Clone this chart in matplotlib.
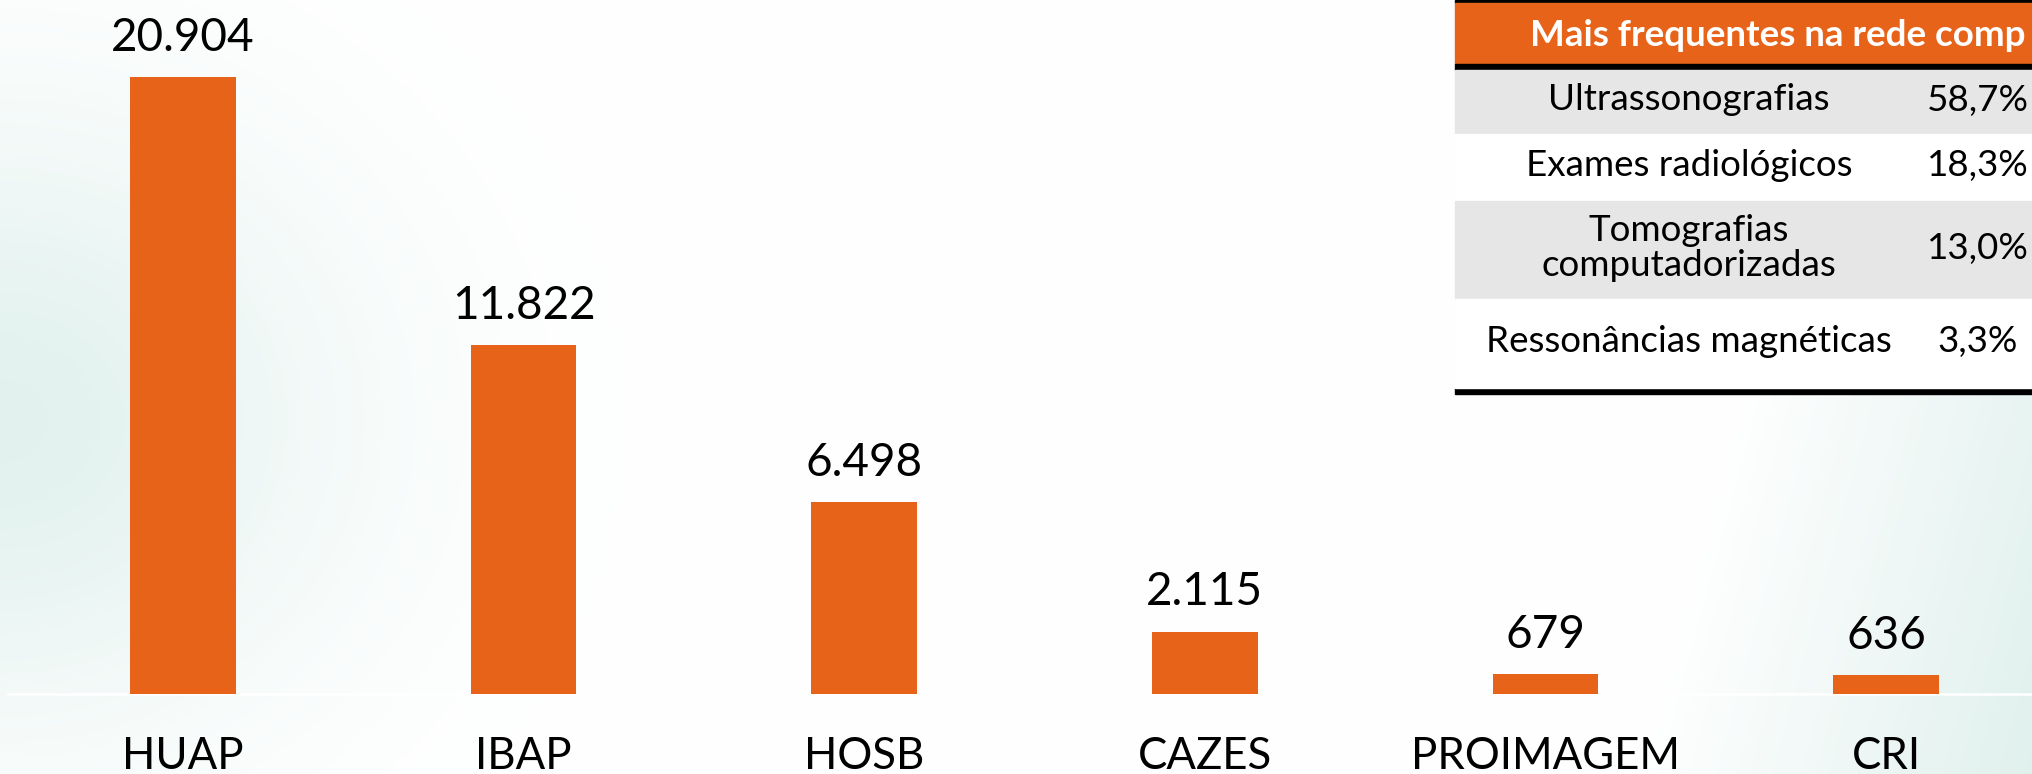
import matplotlib
matplotlib.use("Agg")
import matplotlib.pyplot as plt
import numpy as np
from matplotlib.patches import Rectangle

# -----------------------------------------------------------------------
# Data
# -----------------------------------------------------------------------
units  = ["HUAP", "IBAP", "HOSB", "CAZES", "PROIMAGEM", "CRI"]
exams  = [20904, 11822, 6498, 2115, 679, 636]
labels = ["20.904", "11.822", "6.498", "2.115", "679", "636"]

table_title = "Mais frequentes na rede comp"   # cut at the slide edge
table_rows  = ["Ultrassonografias", "Exames radiológicos",
               "Tomografias\ncomputadorizadas", "Ressonâncias magnéticas"]
table_pcts  = ["58,7%", "18,3%", "13,0%", "3,3%"]

# -----------------------------------------------------------------------
# Style
# -----------------------------------------------------------------------
ORANGE = "#E8631A"
GRAY   = "#E6E6E6"
W, H   = 2033, 774
plt.rcParams["font.family"] = ["Lato", "DejaVu Sans"]

fig = plt.figure(figsize=(W / 100, H / 100), dpi=100)

# background: soft teal glow on the left and in the lower right corner
bg = fig.add_axes([0, 0, 1, 1])
yy, xx = np.mgrid[0:H, 0:W]
glow   = np.exp(-(xx / 340.0) ** 2 - ((yy - 420) / 300.0) ** 2)
corner = np.clip((xx + 0.27 * yy - 1840) / 420.0, 0, 1)
w      = np.clip(0.8 * glow + 0.9 * corner, 0, 1)[..., None]
teal   = np.array([0.86, 0.935, 0.92])
bg.imshow(1 - w * (1 - teal), extent=(0, W, H, 0), aspect="auto")
bg.set_xlim(0, W)
bg.set_ylim(H, 0)
bg.axis("off")

# -----------------------------------------------------------------------
# Bars
# -----------------------------------------------------------------------
ax = fig.add_axes([0, 0, 1, 1])
ax.patch.set_alpha(0)
x = np.arange(len(units))
ax.axhline(0, xmin=0.004, color="white", lw=1.8, zorder=1)
ax.bar(x, exams, width=0.31, color=ORANGE, zorder=2)
ax.set_xlim(-0.537, 5.431)
ax.set_ylim(-2710, 23513)

for xi, v, lab in zip(x, exams, labels):
    ax.annotate(lab, (xi, v), xytext=(0, 19), textcoords="offset points",
                ha="center", va="baseline", fontsize=33)
for xi, u in zip(x, units):
    ax.text(xi, 5 / H, u, transform=ax.get_xaxis_transform(),
            ha="center", va="baseline", fontsize=31.5)
ax.axis("off")

# -----------------------------------------------------------------------
# Table (drawn in pixel coordinates on the background axes)
# -----------------------------------------------------------------------
TX0, TX1 = 1455, W + 200
LBL_X, PCT_X = 1689, 1978
row_edges = [70, 134, 201, 299, 388]

bg.add_patch(Rectangle((TX0, 0), TX1 - TX0, 3, color="black"))
bg.add_patch(Rectangle((TX0, 3), TX1 - TX0, 61, color=ORANGE))
bg.add_patch(Rectangle((TX0, 64), TX1 - TX0, 6, color="black"))
bg.add_patch(Rectangle((TX0, 388), TX1 - TX0, 6, color="black"))
bg.text(1530, 46, table_title, ha="left", va="baseline",
        fontsize=26.5, fontweight="bold", color="white")

for i, (name, pct) in enumerate(zip(table_rows, table_pcts)):
    y0, y1 = row_edges[i], row_edges[i + 1]
    bg.add_patch(Rectangle((TX0, y0), TX1 - TX0, y1 - y0,
                           color=GRAY if i % 2 == 0 else "white"))
    yc = (y0 + y1) / 2 - 2
    bg.text(LBL_X, yc, name, ha="center", va="center", fontsize=26.5,
            linespacing=1.1)
    bg.text(PCT_X, yc, pct, ha="center", va="center", fontsize=26.5)

fig.savefig("out.png", dpi=100)
